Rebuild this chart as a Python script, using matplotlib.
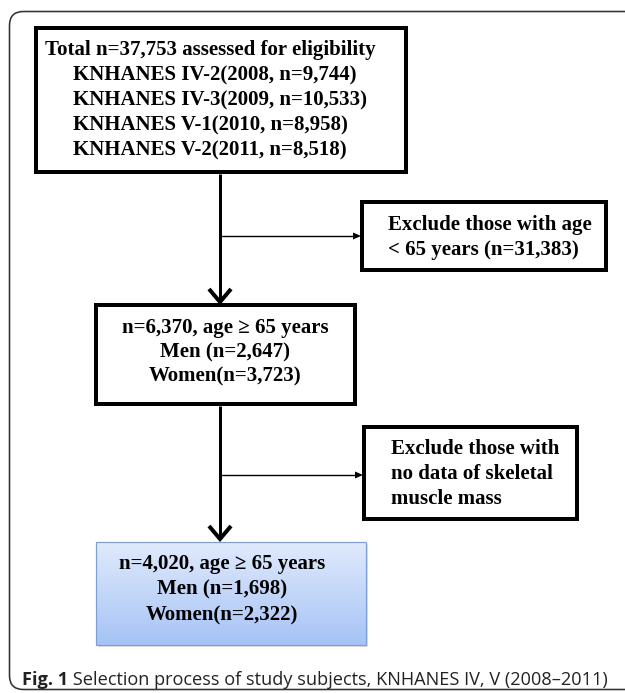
import numpy as np
import matplotlib
matplotlib.use("Agg")
import matplotlib.pyplot as plt
from matplotlib.patches import Rectangle, FancyBboxPatch, Polygon

# ---- text content ----
box1_title = "Total n=37,753 assessed for eligibility"
box1_lines = ["KNHANES IV-2(2008, n=9,744)",
              "KNHANES IV-3(2009, n=10,533)",
              "KNHANES V-1(2010, n=8,958)",
              "KNHANES V-2(2011, n=8,518)"]
excl1_lines = ["Exclude those with age", "< 65 years (n=31,383)"]
box2_lines = ["n=6,370, age \u2265 65 years", "Men (n=2,647)", "Women(n=3,723)"]
excl2_lines = ["Exclude those with", "no data of skeletal", "muscle mass"]
box3_lines = ["n=4,020, age \u2265 65 years", "Men (n=1,698)", "Women(n=2,322)"]
caption_bold = "Fig. 1"
caption_text = " Selection process of study subjects, KNHANES IV, V (2008\u20132011)"

W, H = 625, 693
fig = plt.figure(figsize=(W / 100, H / 100), dpi=100)
ax = fig.add_axes([0, 0, 1, 1])
ax.set_xlim(0, W)
ax.set_ylim(H, 0)
ax.axis("off")

serif = dict(family="Liberation Serif", weight="bold", fontsize=15, color="black")
px = 72 / 100.0

# outer rounded frame
frame = FancyBboxPatch((9.5, 11.5), 640, 678, boxstyle="round,pad=0,rounding_size=14",
                       fill=False, ec="#333333", lw=1.6 * px)
ax.add_patch(frame)

def thick_box(x0, y0, x1, y1):
    ax.add_patch(Rectangle((x0, y0), x1 - x0, y1 - y0, fill=False, ec="black",
                           lw=4 * px, joinstyle="miter"))

# box 1
thick_box(36, 28, 406, 172)
ax.text(45, 50, box1_title, ha="left", va="center", **serif)
for i, s in enumerate(box1_lines):
    ax.text(73, 75 + 25 * i, s, ha="left", va="center", **serif)

# exclusion box 1
thick_box(362, 202, 606, 270)
for i, s in enumerate(excl1_lines):
    ax.text(388, 225 + 25 * i, s, ha="left", va="center", **serif)

# box 2
thick_box(96, 305, 355, 404)
for i, s in enumerate(box2_lines):
    ax.text(225, 328 + 24 * i, s, ha="center", va="center", **serif)

# exclusion box 2
thick_box(364, 427, 577, 519)
for i, s in enumerate(excl2_lines):
    ax.text(391, 449 + 25 * i, s, ha="left", va="center", **serif)

# final box with gradient
bx0, by0, bx1, by1 = 96, 542, 366, 645
ax.add_patch(Rectangle((bx0 + 2, by0 + 2), bx1 - bx0, by1 - by0, fc="#c8c8c8",
                       ec="none", alpha=0.6, zorder=1))
top = np.array([0xe0, 0xea, 0xfc]) / 255
bot = np.array([0xa6, 0xc3, 0xf6]) / 255
t = np.linspace(0, 1, 200)[:, None]
grad = (top[None, :] * (1 - t) + bot[None, :] * t)[:, None, :]
ax.imshow(grad, extent=(bx0, bx1, by1, by0), aspect="auto", zorder=2,
          interpolation="bilinear")
ax.add_patch(Rectangle((bx0, by0), bx1 - bx0, by1 - by0, fill=False,
                       ec="#7e9fd3", lw=1.2 * px, zorder=3))
for i, s in enumerate(box3_lines):
    ax.text(222, 564 + 25.5 * i, s, ha="center", va="center", zorder=4, **serif)
ax.set_xlim(0, W)
ax.set_ylim(H, 0)

# main vertical connectors with open chevron heads
xc = 220
def down_arrow(y0, y1):
    ax.plot([xc, xc], [y0, y1 - 1], color="black", lw=3 * px, solid_capstyle="butt")
    ax.plot([xc - 11, xc, xc + 11], [y1 - 14, y1 - 1, y1 - 14], color="black",
            lw=4 * px, solid_joinstyle="miter", solid_capstyle="butt")

down_arrow(174, 303)
down_arrow(406, 540)

# thin side branches with small filled heads
def side_arrow(y, x1):
    ax.plot([xc + 1, x1 - 7], [y, y], color="black", lw=1.4 * px)
    ax.add_patch(Polygon([[x1 - 9, y - 3.5], [x1 - 1, y], [x1 - 9, y + 3.5]],
                         closed=True, fc="black", ec="none"))

side_arrow(236, 362)
side_arrow(475, 364)

# caption
cap_size = 13.1
cb = ax.text(22, 680, caption_bold, ha="left", va="center", family="Open Sans",
             weight="bold", fontsize=cap_size, color="#222222")
fig.canvas.draw()
bb = cb.get_window_extent()
x_end = bb.x1
ydisp = ax.transData.transform((0, 680))[1]
ax.text(x_end, ydisp, caption_text, ha="left", va="center", family="Open Sans",
        fontsize=cap_size, color="#222222", transform=None)

fig.savefig("out.png", dpi=100)
